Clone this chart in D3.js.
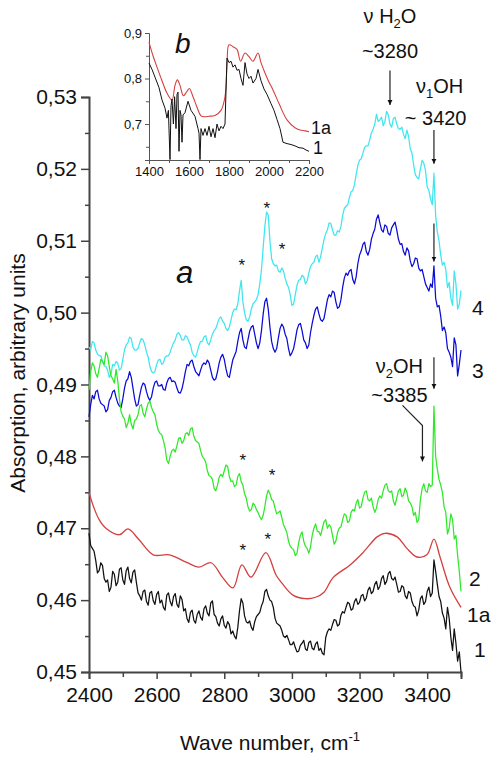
<!DOCTYPE html>
<html><head><meta charset="utf-8">
<script src="https://cdn.jsdelivr.net/npm/d3@7"></script>
<style>
body{margin:0;background:#fff;}
text{font-family:Arial,"Liberation Sans",sans-serif;fill:#111;}
</style></head>
<body><svg id="chart" width="491" height="758"></svg>
<script>
// ---------- DATA ----------
const wavenumbers = d3.range(2400, 3501, 10); // sample positions, cm-1
const wavenumbersMid = d3.range(2405, 3500, 10); // intermediate sample positions
const curve1 = [
0.4693,0.4672,0.4655,0.4641,0.4648,0.4625,0.4612,0.4640,0.4620,0.4643,
0.4628,0.4641,0.4630,0.4639,0.4625,0.4606,0.4612,0.4598,0.4610,0.4599,
0.4608,0.4596,0.4590,0.4607,0.4598,0.4605,0.4594,0.4606,0.4585,0.4574,
0.4583,0.4572,0.4580,0.4576,0.4588,0.4582,0.4596,0.4580,0.4568,0.4574,
0.4565,0.4570,0.4553,0.4550,0.4562,0.4602,0.4578,0.4568,0.4562,0.4570,
0.4580,0.4592,0.4612,0.4606,0.4598,0.4575,0.4566,0.4558,0.4548,0.4545,
0.4538,0.4534,0.4529,0.4540,0.4532,0.4541,0.4533,0.4539,0.4530,0.4526,
0.4548,0.4560,0.4566,0.4572,0.4566,0.4584,0.4590,0.4595,0.4588,0.4602,
0.4597,0.4608,0.4603,0.4618,0.4612,0.4626,0.4619,0.4634,0.4626,0.4640,
0.4628,0.4622,0.4612,0.4618,0.4602,0.4610,0.4592,0.4578,0.4602,0.4594,
0.4612,0.4605,0.4656,0.4622,0.4598,0.4575,0.4590,0.4548,0.4560,0.4515,
0.4500];
const curve1Mid = [
0.4676,0.4668,0.4638,0.4652,0.4630,0.4628,0.4618,0.4636,0.4625,0.4645,
0.4622,0.4646,0.4624,0.4642,0.4610,0.4600,0.4614,0.4593,0.4612,0.4594,
0.4612,0.4600,0.4586,0.4610,0.4592,0.4609,0.4590,0.4601,0.4588,0.4569,
0.4586,0.4568,0.4585,0.4572,0.4592,0.4578,0.4599,0.4577,0.4564,0.4578,
0.4561,0.4566,0.4557,0.4546,0.4585,0.4596,0.4570,0.4571,0.4558,0.4577,
0.4583,0.4598,0.4615,0.4600,0.4590,0.4568,0.4564,0.4550,0.4551,0.4538,
0.4542,0.4528,0.4537,0.4544,0.4530,0.4543,0.4531,0.4542,0.4533,0.4524,
0.4556,0.4558,0.4573,0.4564,0.4579,0.4582,0.4597,0.4586,0.4598,0.4594,
0.4606,0.4599,0.4614,0.4609,0.4622,0.4615,0.4630,0.4622,0.4637,0.4630,
0.4632,0.4611,0.4620,0.4606,0.4612,0.4598,0.4590,0.4586,0.4606,0.4598,
0.4618,0.4610,0.4640,0.4605,0.4582,0.4560,0.4575,0.4530,0.4540,0.4528];
const curve2 = [
0.4892,0.4930,0.4915,0.4922,0.4932,0.4945,0.4925,0.4908,0.4921,0.4880,
0.4856,0.4840,0.4858,0.4838,0.4852,0.4870,0.4860,0.4866,0.4877,0.4862,
0.4845,0.4832,0.4822,0.4795,0.4800,0.4810,0.4815,0.4826,0.4822,0.4833,
0.4838,0.4828,0.4820,0.4808,0.4797,0.4780,0.4772,0.4755,0.4760,0.4775,
0.4780,0.4786,0.4765,0.4758,0.4772,0.4765,0.4748,0.4730,0.4726,0.4732,
0.4722,0.4712,0.4730,0.4753,0.4740,0.4728,0.4722,0.4715,0.4700,0.4682,
0.4672,0.4662,0.4680,0.4695,0.4675,0.4665,0.4690,0.4706,0.4695,0.4700,
0.4712,0.4705,0.4690,0.4682,0.4700,0.4712,0.4718,0.4710,0.4726,0.4735,
0.4728,0.4742,0.4752,0.4738,0.4730,0.4728,0.4745,0.4752,0.4762,0.4750,
0.4738,0.4742,0.4755,0.4746,0.4750,0.4735,0.4718,0.4708,0.4740,0.4762,
0.4750,0.4758,0.4870,0.4782,0.4760,0.4730,0.4692,0.4720,0.4685,0.4662,
0.4612];
const curve2Mid = [
0.4918,0.4926,0.4910,0.4935,0.4928,0.4940,0.4912,0.4902,0.4905,0.4862,
0.4852,0.4846,0.4845,0.4850,0.4858,0.4872,0.4855,0.4874,0.4868,0.4858,
0.4836,0.4830,0.4812,0.4790,0.4808,0.4806,0.4825,0.4818,0.4831,0.4829,
0.4840,0.4822,0.4818,0.4800,0.4792,0.4773,0.4768,0.4752,0.4771,0.4772,
0.4788,0.4772,0.4766,0.4760,0.4776,0.4760,0.4742,0.4724,0.4735,0.4726,
0.4716,0.4718,0.4745,0.4748,0.4738,0.4720,0.4724,0.4705,0.4694,0.4675,
0.4670,0.4665,0.4690,0.4682,0.4672,0.4674,0.4700,0.4696,0.4690,0.4709,
0.4700,0.4702,0.4678,0.4694,0.4702,0.4720,0.4708,0.4722,0.4724,0.4740,
0.4730,0.4750,0.4740,0.4742,0.4722,0.4740,0.4742,0.4760,0.4752,0.4752,
0.4732,0.4752,0.4744,0.4756,0.4738,0.4730,0.4722,0.4712,0.4755,0.4752,
0.4762,0.4760,0.4800,0.4768,0.4750,0.4722,0.4700,0.4712,0.4690,0.4640];
const curve3 = [
0.4855,0.4885,0.4890,0.4880,0.4872,0.4862,0.4878,0.4890,0.4882,0.4870,
0.4880,0.4905,0.4918,0.4895,0.4870,0.4885,0.4902,0.4890,0.4878,0.4895,
0.4905,0.4898,0.4893,0.4902,0.4910,0.4905,0.4895,0.4888,0.4905,0.4928,
0.4932,0.4925,0.4915,0.4920,0.4930,0.4934,0.4920,0.4906,0.4918,0.4938,
0.4935,0.4912,0.4922,0.4940,0.4960,0.4978,0.4952,0.4962,0.4980,0.4970,
0.4950,0.4975,0.5015,0.5005,0.4960,0.4945,0.4965,0.4984,0.4970,0.4950,
0.4944,0.4962,0.4983,0.4975,0.4958,0.4955,0.4985,0.5005,0.4998,0.4988,
0.5005,0.5025,0.5030,0.5015,0.5008,0.5035,0.5055,0.5058,0.5046,0.5050,
0.5080,0.5095,0.5085,0.5088,0.5110,0.5130,0.5125,0.5112,0.5120,0.5108,
0.5122,0.5115,0.5095,0.5085,0.5090,0.5072,0.5068,0.5075,0.5058,0.5050,
0.5035,0.5040,0.5065,0.5008,0.4995,0.4980,0.4950,0.4938,0.4965,0.4912,
0.4948];
const curve3Mid = [
0.4872,0.4880,0.4892,0.4874,0.4870,0.4865,0.4882,0.4892,0.4874,0.4868,
0.4895,0.4908,0.4910,0.4880,0.4872,0.4896,0.4900,0.4882,0.4883,0.4903,
0.4898,0.4900,0.4892,0.4908,0.4904,0.4903,0.4889,0.4894,0.4918,0.4926,
0.4934,0.4918,0.4912,0.4927,0.4928,0.4930,0.4910,0.4908,0.4930,0.4942,
0.4922,0.4910,0.4934,0.4946,0.4972,0.4962,0.4950,0.4974,0.4982,0.4958,
0.4958,0.4998,0.5020,0.4980,0.4950,0.4950,0.4978,0.4980,0.4964,0.4940,
0.4950,0.4976,0.4985,0.4962,0.4950,0.4972,0.4996,0.5008,0.4990,0.4992,
0.5018,0.5022,0.5028,0.5006,0.5018,0.5048,0.5052,0.5060,0.5040,0.5068,
0.5086,0.5098,0.5080,0.5102,0.5116,0.5136,0.5115,0.5122,0.5110,0.5118,
0.5126,0.5102,0.5096,0.5080,0.5086,0.5064,0.5076,0.5062,0.5060,0.5040,
0.5030,0.5035,0.5020,0.5010,0.4975,0.4972,0.4945,0.4925,0.4955,0.4928];
const curve4 = [
0.4952,0.4960,0.4948,0.4940,0.4932,0.4925,0.4910,0.4928,0.4932,0.4920,
0.4935,0.4955,0.4966,0.4952,0.4948,0.4958,0.4962,0.4945,0.4925,0.4916,
0.4928,0.4935,0.4930,0.4940,0.4945,0.4958,0.4970,0.4968,0.4962,0.4966,
0.4955,0.4940,0.4945,0.4960,0.4966,0.4958,0.4962,0.4975,0.4985,0.4994,
0.4985,0.4975,0.4990,0.5005,0.5012,0.5045,0.5000,0.4988,0.5005,0.5015,
0.5025,0.5060,0.5120,0.5136,0.5075,0.5065,0.5058,0.5062,0.5048,0.5035,
0.5010,0.5025,0.5045,0.5052,0.5040,0.5055,0.5068,0.5078,0.5070,0.5090,
0.5110,0.5125,0.5115,0.5108,0.5112,0.5135,0.5148,0.5160,0.5170,0.5192,
0.5212,0.5222,0.5232,0.5240,0.5255,0.5276,0.5268,0.5260,0.5280,0.5262,
0.5270,0.5262,0.5255,0.5248,0.5254,0.5228,0.5205,0.5188,0.5200,0.5208,
0.5175,0.5158,0.5194,0.5112,0.5080,0.5070,0.5035,0.5020,0.5058,0.5005,
0.5031];
const curve4Mid = [
0.4948,0.4958,0.4942,0.4940,0.4926,0.4920,0.4914,0.4926,0.4930,0.4922,
0.4948,0.4958,0.4964,0.4948,0.4950,0.4964,0.4955,0.4938,0.4918,0.4918,
0.4934,0.4928,0.4938,0.4940,0.4952,0.4962,0.4972,0.4962,0.4968,0.4960,
0.4945,0.4938,0.4954,0.4960,0.4968,0.4955,0.4970,0.4978,0.4992,0.4988,
0.4978,0.4980,0.5000,0.5004,0.5030,0.5015,0.4990,0.4994,0.5012,0.5018,
0.5040,0.5090,0.5140,0.5100,0.5068,0.5066,0.5056,0.5058,0.5040,0.5025,
0.5012,0.5038,0.5046,0.5050,0.5044,0.5064,0.5070,0.5080,0.5078,0.5102,
0.5115,0.5124,0.5108,0.5114,0.5120,0.5145,0.5150,0.5168,0.5178,0.5205,
0.5214,0.5230,0.5232,0.5250,0.5262,0.5266,0.5272,0.5266,0.5275,0.5258,
0.5272,0.5256,0.5258,0.5242,0.5245,0.5222,0.5192,0.5186,0.5212,0.5198,
0.5170,0.5150,0.5135,0.5100,0.5066,0.5060,0.5042,0.5010,0.5040,0.5012];
// smooth curve 1a
const wn1a  = [2400,2415,2430,2450,2490,2515,2548,2590,2637,2687,2725,2761,2796,2826,2852,2879,2923,2953,2970,3003,3040,3070,3095,3121,3172,3210,3252,3275,3311,3340,3370,3399,3420,3438,3467,3500];
const val1a = [0.4750,0.4728,0.4712,0.4700,0.4691,0.4699,0.4684,0.4663,0.4663,0.4653,0.4646,0.4652,0.4631,0.4617,0.4649,0.4632,0.4666,0.4635,0.4624,0.4607,0.4602,0.4604,0.4611,0.4631,0.4649,0.4666,0.4688,0.4693,0.4688,0.4672,0.4660,0.4663,0.4685,0.4660,0.4618,0.4590];

// inset b
const insetWn1a  = [1400,1420,1440,1465,1490,1515,1530,1542,1555,1572,1590,1602,1620,1640,1660,1680,1700,1730,1760,1780,1790,1800,1820,1840,1858,1880,1900,1920,1945,1960,1980,2000,2020,2050,2090,2130,2155,2180,2200];
const insetVal1a = [0.880,0.850,0.825,0.795,0.768,0.753,0.785,0.797,0.785,0.762,0.772,0.778,0.760,0.737,0.718,0.716,0.717,0.719,0.730,0.760,0.830,0.874,0.870,0.864,0.838,0.856,0.848,0.838,0.856,0.835,0.812,0.792,0.775,0.745,0.709,0.692,0.687,0.685,0.683];
const insetWn1  = [1400,1415,1430,1450,1465,1480,1490,1497,1505,1510,1515,1522,1528,1535,1540,1545,1550,1555,1560,1565,1570,1580,1595,1610,1630,1645,1650,1655,1660,1670,1680,1690,1700,1710,1720,1730,1740,1750,1760,1770,1780,1790,1800,1810,1820,1830,1840,1850,1860,1870,1880,1890,1900,1910,1920,1935,1945,1960,1975,1990,2010,2025,2040,2055,2070,2090,2110,2130,2150,2170,2185,2200];
const insetVal1 = [0.834,0.820,0.803,0.780,0.753,0.735,0.713,0.730,0.622,0.740,0.755,0.700,0.760,0.690,0.765,0.770,0.640,0.730,0.720,0.660,0.720,0.725,0.750,0.730,0.717,0.690,0.680,0.622,0.690,0.675,0.690,0.675,0.695,0.672,0.690,0.670,0.700,0.685,0.695,0.690,0.700,0.845,0.835,0.838,0.825,0.830,0.818,0.820,0.800,0.785,0.835,0.810,0.800,0.805,0.790,0.800,0.820,0.795,0.777,0.765,0.745,0.730,0.710,0.690,0.660,0.657,0.655,0.652,0.648,0.647,0.643,0.640];

const yTicksMain = [0.45,0.46,0.47,0.48,0.49,0.50,0.51,0.52,0.53];
const xTicksMain = [2400,2600,2800,3000,3200,3400];
const xTicksInset = [1400,1600,1800,2000,2200];
const yTicksInset = [0.7,0.8,0.9];

// annotations (data units)
const stars = [[2852,0.5070],[2926,0.5150],[2971,0.5093],[2855,0.4799],[2941,0.4778],[2855,0.4674],[2929,0.4689]];

// ---------- DRAW ----------
const svg = d3.select("#chart");
const fmt = d => d3.format(".2f")(d).replace(".", ",");
const x = d3.scaleLinear().domain([2400,3500]).range([89,461]);
const y = d3.scaleLinear().domain([0.45,0.53]).range([672,97]);
const axisColor = "#444";

svg.append("defs").append("marker").attr("id","ah").attr("viewBox","0 0 10 10")
  .attr("refX",10).attr("refY",5).attr("markerWidth",5).attr("markerHeight",7)
  .attr("markerUnits","userSpaceOnUse").attr("orient","auto")
  .append("path").attr("d","M0,0 L10,5 L0,10 Z").attr("fill","#111");

// main axes
const yAxis = svg.append("g").attr("transform","translate(89,0)")
  .call(d3.axisLeft(y).tickValues(yTicksMain).tickFormat(fmt).tickSize(8).tickPadding(4));
svg.append("g").attr("transform","translate(89,0)")
  .call(d3.axisLeft(y).tickValues(d3.range(0.455,0.53,0.01)).tickFormat("").tickSize(4))
  .select(".domain").remove();
const xAxis = svg.append("g").attr("transform","translate(0,672)")
  .call(d3.axisBottom(x).tickValues(xTicksMain).tickFormat(d3.format("d")).tickSize(7).tickPadding(8));
svg.append("g").attr("transform","translate(0,672)")
  .call(d3.axisBottom(x).tickValues(d3.range(2500,3501,200)).tickFormat("").tickSize(5))
  .select(".domain").remove();
svg.selectAll(".domain").attr("stroke",axisColor).attr("stroke-width",2);
svg.selectAll(".tick line").attr("stroke",axisColor).attr("stroke-width",1.5);
yAxis.selectAll("text").attr("font-size",21).style("font-family","Arial, 'Liberation Sans'").attr("fill","#111");
xAxis.selectAll("text").attr("font-size",21).style("font-family","Arial, 'Liberation Sans'").attr("fill","#111");

// axis titles
svg.append("text").attr("transform","translate(25,373) rotate(-90)").attr("text-anchor","middle")
  .attr("font-size",21).text("Absorption, arbitrary units");
const xt = svg.append("text").attr("x",270).attr("y",750).attr("text-anchor","middle").attr("font-size",21);
xt.append("tspan").text("Wave number, cm");
xt.append("tspan").attr("font-size",13).attr("dy",-9).text("-1");

// curves
const line = d3.line().x(d=>x(d[0])).y(d=>y(d[1]));
function merged(vals, mids){
  const out=[];
  wavenumbers.forEach((w,i)=>{ out.push([w,vals[i]]); if(i<mids.length) out.push([wavenumbersMid[i],mids[i]]); });
  return out;
}
const series = [
  {vals:curve4,mids:curve4Mid,color:"#3ee6ef"},
  {vals:curve3,mids:curve3Mid,color:"#0b0bd6"},
  {vals:curve2,mids:curve2Mid,color:"#2fe82a"},
  {vals:curve1,mids:curve1Mid,color:"#111111"}
];
series.forEach(s=>{
  svg.append("path").datum(merged(s.vals,s.mids))
    .attr("d",line).attr("fill","none").attr("stroke",s.color).attr("stroke-width",1.25).attr("stroke-linejoin","round");
});
svg.append("path").datum(wn1a.map((w,i)=>[w,val1a[i]]))
  .attr("d",d3.line().x(d=>x(d[0])).y(d=>y(d[1])).curve(d3.curveCatmullRom))
  .attr("fill","none").attr("stroke","#d4403f").attr("stroke-width",1.3);

// curve labels
const lab = (t,xx,yy,fs=21)=>svg.append("text").attr("x",xx).attr("y",yy).attr("font-size",fs).text(t);
lab("4",472,315); lab("3",472,378); lab("2",469,586); lab("1a",467,622); lab("1",474,657);
svg.append("text").attr("x",176).attr("y",283).attr("font-size",31).attr("font-style","italic").text("a");

stars.forEach(s=>svg.append("text").attr("x",x(s[0])).attr("y",y(s[1])+9).attr("text-anchor","middle").attr("font-size",17).text("*"));

// annotation texts: parts [text, isSub]
function anno(xx,yy,parts){
  const t=svg.append("text").attr("x",xx).attr("y",yy).attr("text-anchor","middle").attr("font-size",20);
  let prevSub=false;
  parts.forEach(p=>{
    const ts=t.append("tspan").text(p[0]);
    if(p[1]){ ts.attr("font-size",13).attr("dy",5); prevSub=true; }
    else if(prevSub){ ts.attr("dy",-5); prevSub=false; }
  });
  return t;
}
anno(x(3290),23,[["ν H"],["2",1],["O"]]);
anno(x(3290),58,[["~3280"]]);
anno(x(3437),93,[["ν"],["1",1],["OH"]]);
anno(x(3425),125,[["~ 3420"]]);
anno(x(3318),373,[["ν"],["2",1],["OH"]]);
anno(x(3318),402,[["~3385"]]);

const arrow = pts => svg.append("path").attr("d",d3.line()(pts.map(p=>[x(p[0]),y(p[1])])))
  .attr("fill","none").attr("stroke","#222").attr("stroke-width",1.2).attr("marker-end","url(#ah)");
arrow([[3290,0.5337],[3290,0.5289]]);
arrow([[3420,0.5254],[3420,0.5207]]);
arrow([[3420,0.5124],[3420,0.5071]]);
arrow([[3420,0.4938],[3420,0.4894]]);
arrow([[3327,0.4871],[3386,0.4843],[3386,0.4793]]);

// ---------- INSET ----------
const xi = d3.scaleLinear().domain([1400,2200]).range([149,309]);
const yi = d3.scaleLinear().domain([0.621,0.9]).range([160,33]);
const ia = svg.append("g").attr("transform","translate(149,0)")
  .call(d3.axisLeft(yi).tickValues(yTicksInset).tickFormat(d=>d3.format(".1f")(d).replace(".",",")).tickSize(4).tickPadding(3));
const iaM = svg.append("g").attr("transform","translate(149,0)")
  .call(d3.axisLeft(yi).tickValues([0.65,0.75,0.85]).tickFormat("").tickSize(3));
iaM.select(".domain").remove();
const ib = svg.append("g").attr("transform","translate(0,160)")
  .call(d3.axisBottom(xi).tickValues(xTicksInset).tickFormat(d3.format("d")).tickSize(4).tickPadding(3));
const ibM = svg.append("g").attr("transform","translate(0,160)")
  .call(d3.axisBottom(xi).tickValues([1500,1700,1900,2100]).tickFormat("").tickSize(3));
ibM.select(".domain").remove();
[ia,ib,iaM,ibM].forEach(g=>{
  g.selectAll("text").attr("font-size",13).style("font-family","Arial, 'Liberation Sans'").attr("fill","#111");
  g.select(".domain").attr("stroke","#555").attr("stroke-width",1);
  g.selectAll(".tick line").attr("stroke","#555").attr("stroke-width",1);
});
svg.append("path").datum(insetWn1a.map((w,i)=>[w,insetVal1a[i]]))
  .attr("d",d3.line().x(d=>xi(d[0])).y(d=>yi(d[1])).curve(d3.curveCatmullRom))
  .attr("fill","none").attr("stroke","#d4403f").attr("stroke-width",1.1);
svg.append("path").datum(insetWn1.map((w,i)=>[w,insetVal1[i]]))
  .attr("d",d3.line().x(d=>xi(d[0])).y(d=>yi(d[1])))
  .attr("fill","none").attr("stroke","#111").attr("stroke-width",1);
lab("1a",311,134,18); lab("1",313,154,18);
svg.append("text").attr("x",175).attr("y",53).attr("font-size",28).attr("font-style","italic").text("b");
</script></body></html>
